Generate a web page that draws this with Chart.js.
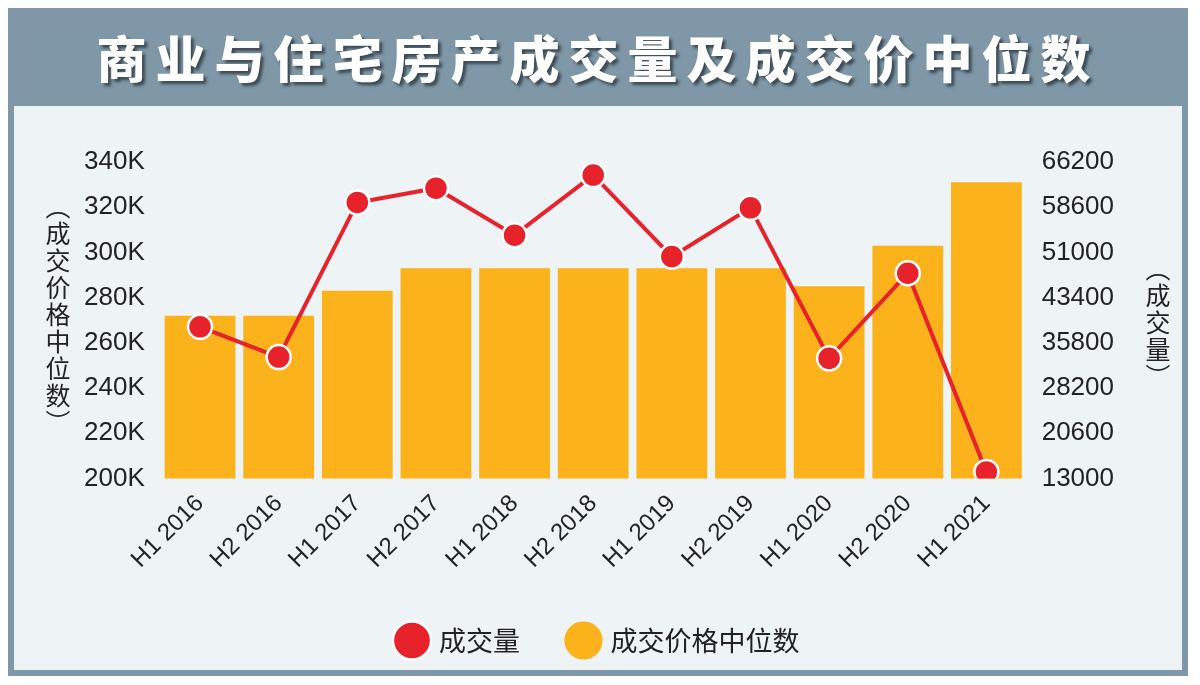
<!DOCTYPE html>
<html>
<head>
<meta charset="utf-8">
<script src="https://cdn.jsdelivr.net/npm/chart.js@4/dist/chart.umd.min.js"></script>
<style>
  body { margin: 0; width: 1200px; height: 685px; background: #fff; font-family: "Noto Sans CJK SC", sans-serif; }
  .frame { position: absolute; left: 8px; top: 8px; width: 1180px; height: 668px; background: #7f97a6; }
  .title { position: absolute; left: 0; top: 0; width: 1180px; height: 96px; line-height: 96px; text-align: center;
    color: #fff; font-size: 50px; font-weight: 900; letter-spacing: 9px; text-shadow: 3px 3px 3px #3c4a55; }
  .panel { position: absolute; left: 6px; top: 98px; width: 1168px; height: 564px; background: #eef3f6; }
  .vt { position: absolute; writing-mode: vertical-rl; font-size: 25px; color: #222; letter-spacing: 2px; }
  #wrap { position: absolute; left: 0; top: 0; width: 1168px; height: 564px; }
</style>
</head>
<body>
<div class="frame">
  <div class="title">商业与住宅房产成交量及成交价中位数</div>
  <div class="panel">
    <div id="wrap"><canvas id="chart"></canvas></div>
    <div class="vt" style="left:26px; top:88px;">（成交价格中位数）</div>
    <div class="vt" style="left:1126px; top:150px;">（成交量）</div>
  </div>
</div>
<script>
const labels = ['H1 2016','H2 2016','H1 2017','H2 2017','H1 2018','H2 2018','H1 2019','H2 2019','H1 2020','H2 2020','H1 2021'];
const medianPrice = [272000,272000,283000,293000,293000,293000,293000,293000,285000,303000,331000];
const volume = [38500,33400,59400,61800,53900,64000,50300,58500,33200,47500,14100];

const ctx = document.getElementById('chart').getContext('2d');
new Chart(ctx, {
  data: {
    labels: labels,
    datasets: [
      { type: 'line', label: '成交量', data: volume, yAxisID: 'y1', borderColor: '#e8222b', backgroundColor: '#e8222b',
        pointBackgroundColor: '#e8222b', pointBorderColor: '#fff', pointBorderWidth: 2.5, pointRadius: 12,
        borderWidth: 4, tension: 0, order: 0 },
      { type: 'bar', label: '成交价格中位数', data: medianPrice, yAxisID: 'y', backgroundColor: '#fbb21b',
        categoryPercentage: 1, barPercentage: 0.9, order: 1 }
    ]
  },
  options: {
    responsive: true, maintainAspectRatio: false, animation: false,
    layout: { padding: { left: 62, right: 60, top: 56, bottom: 6 } },
    plugins: {
      legend: { position: 'bottom', labels: { usePointStyle: true, pointStyle: 'circle', boxWidth: 28, boxHeight: 28,
        padding: 50, color: '#222', font: { size: 27, family: 'Noto Sans CJK SC' } } },
      tooltip: { enabled: false }
    },
    scales: {
      x: { grid: { display: false }, border: { display: false },
        ticks: { color: '#222', maxRotation: 45, minRotation: 45, font: { size: 24, family: 'Liberation Sans' } } },
      y: { min: 200000, max: 340000, position: 'left', grid: { display: false }, border: { display: false },
        afterBuildTicks: a => { a.ticks = [200,220,240,260,280,300,320,340].map(v => ({ value: v * 1000 })); },
        ticks: { color: '#222', padding: 8, font: { size: 26, family: 'Liberation Sans' }, callback: v => (v / 1000) + 'K' } },
      y1: { min: 13000, max: 66200, position: 'right', grid: { display: false }, border: { display: false },
        afterBuildTicks: a => { a.ticks = [13000,20600,28200,35800,43400,51000,58600,66200].map(v => ({ value: v })); },
        ticks: { color: '#222', padding: 8, font: { size: 26, family: 'Liberation Sans' }, callback: v => String(v) } }
    }
  }
});
</script>
</body>
</html>
